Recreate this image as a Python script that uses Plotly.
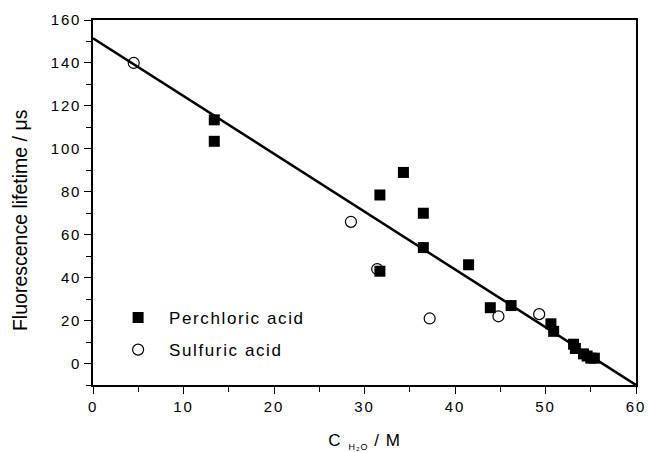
import plotly.graph_objects as go

# Perchloric acid: water concentration (M) vs. fluorescence lifetime (µs)
perchloric_c = [13.4, 13.4, 31.7, 31.7, 34.3, 36.5, 36.5, 41.5, 43.9, 46.2,
                50.6, 50.9, 53.1, 53.3, 54.2, 54.6, 55.0, 55.4]
perchloric_tau = [113.5, 103.5, 78.5, 43.0, 89.0, 70.0, 54.0, 46.0, 26.0, 27.0,
                  18.5, 15.0, 9.0, 7.0, 4.5, 3.5, 2.5, 2.5]

# Sulfuric acid
sulfuric_c = [4.5, 28.5, 31.4, 37.2, 44.8, 49.3]
sulfuric_tau = [140.0, 66.0, 44.0, 21.0, 22.0, 23.0]

# Linear fit through the data
fit_intercept = 151.5
fit_slope = -2.692
fit_x = [0, 60]
fit_y = [fit_intercept + fit_slope * x for x in fit_x]

x_ticks = [0, 10, 20, 30, 40, 50, 60]
y_ticks = [0, 20, 40, 60, 80, 100, 120, 140, 160]

FONT = "Liberation Sans, Arial, sans-serif"

fig = go.Figure()
fig.add_trace(go.Scatter(
    x=fit_x, y=fit_y, mode="lines",
    line=dict(color="black", width=2.5),
    showlegend=False,
))
fig.add_trace(go.Scatter(
    x=perchloric_c, y=perchloric_tau, mode="markers",
    name="Perchloric acid", legendgroup="perchloric",
    marker=dict(symbol="square", size=11, color="black",
                line=dict(width=0)),
))
fig.add_trace(go.Scatter(
    x=sulfuric_c, y=sulfuric_tau, mode="markers",
    name="Sulfuric acid", legendgroup="sulfuric",
    marker=dict(symbol="circle-open", size=11, color="black",
                line=dict(width=1.2, color="black")),
))

axis_common = dict(
    showline=True, linecolor="black", linewidth=1.5, mirror=True,
    ticks="outside", tickcolor="black", ticklen=7, tickwidth=1.2,
    showgrid=False, zeroline=False, automargin=False,
    tickfont=dict(family=FONT, size=15, color="black"),
)

fig.update_layout(
    width=648, height=452,
    margin=dict(l=93, r=12, t=20, b=67),
    paper_bgcolor="white", plot_bgcolor="white",
    font=dict(family=FONT, color="black"),
    xaxis=dict(
        range=[0, 60], tickvals=x_ticks,
        minor=dict(ticks="outside", dtick=5, ticklen=5, tickcolor="black", tickwidth=1.2),
        title=dict(text="C<sub><span style='font-size:9px'>&nbsp;&nbsp;H₂O</span></sub> / M",
                   standoff=25,
                   font=dict(family=FONT, size=17, color="black")),
        **axis_common,
    ),
    yaxis=dict(
        range=[-10, 160], tickvals=y_ticks,
        minor=dict(ticks="outside", dtick=10, tick0=0, ticklen=5, tickcolor="black", tickwidth=1.2),
        **axis_common,
    ),
    legend=dict(
        x=0.026, y=0.233, xanchor="left", yanchor="top",
        bgcolor="rgba(0,0,0,0)", borderwidth=0,
        font=dict(family=FONT, size=17, color="black"),
        itemwidth=52, tracegroupgap=7, traceorder="grouped",
    ),
    annotations=[dict(
        text="Fluorescence lifetime / μs",
        xref="paper", yref="paper", x=-0.1344, y=0.452,
        xanchor="center", yanchor="middle", textangle=-90,
        showarrow=False,
        font=dict(family=FONT, size=19.5, color="black"),
    )],
)

# Slightly wider letter spacing for tick, title and legend texts
spacing_js = """
var st = document.createElement('style');
st.textContent =
  '.xtick text, .ytick text { letter-spacing: 1.8px; }' +
  '.g-xtitle text { letter-spacing: 1px; }' +
  '.legendtext, .traces text { letter-spacing: 1.6px; }' +
  '.scrollbox { clip-path: none !important; }';
document.head.appendChild(st);
"""

fig.write_html("out.html", post_script=spacing_js)
